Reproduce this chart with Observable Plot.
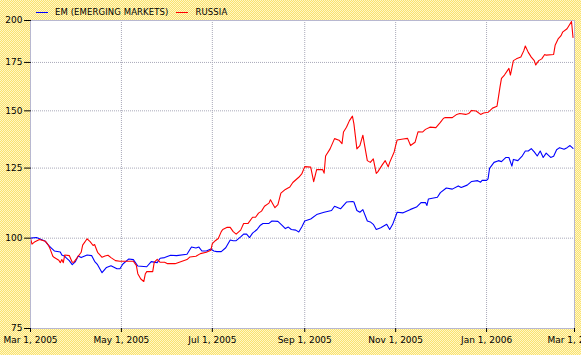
<!DOCTYPE html>
<html><head><meta charset="utf-8">
<script src="https://cdn.jsdelivr.net/npm/d3@7"></script>
<script src="https://cdn.jsdelivr.net/npm/@observablehq/plot@0.6"></script>
<style>
html,body{margin:0;padding:0;}
body{width:581px;height:355px;overflow:hidden;position:relative;font-family:"DejaVu Sans",sans-serif;
  background-color:#fcee98;
  background-image:repeating-conic-gradient(#fae26e 0 25%, #fff6c6 0 50%);
  background-size:2px 2px;}
#chart svg{display:block;background:transparent;}
#legend{position:absolute;top:7px;left:36px;font-size:8.5px;letter-spacing:0.1px;display:flex;align-items:center;color:#000;line-height:10px;}
#legend .item{display:flex;align-items:center;margin-right:8px;}
#legend .sw{display:inline-block;width:12px;height:0;border-top:1px solid;margin-right:7px;}
</style></head><body>
<div id="chart"></div>
<div id="legend"></div>
<script>
const seriesNames = ["EM (EMERGING MARKETS)", "RUSSIA"];
const seriesColors = ["#0000ff", "#ff0000"];
const yTicks = [75, 100, 125, 150, 175, 200];
const xTicks = ["2005-03-01", "2005-05-01", "2005-07-01", "2005-09-01", "2005-11-01", "2006-01-01", "2006-03-01"];

const emDates = ["2005-03-01","2005-03-05","2005-03-11","2005-03-13","2005-03-15","2005-03-17","2005-03-21","2005-03-22","2005-03-24","2005-03-25",
"2005-03-27","2005-03-29","2005-03-31","2005-04-02","2005-04-04","2005-04-08","2005-04-11","2005-04-13","2005-04-15","2005-04-18",
"2005-04-21","2005-04-24","2005-04-28","2005-04-30","2005-05-02","2005-05-06","2005-05-09","2005-05-12","2005-05-18","2005-05-21",
"2005-05-25","2005-05-27","2005-05-30","2005-06-03","2005-06-07","2005-06-14","2005-06-17","2005-06-20","2005-06-22","2005-06-24",
"2005-06-27","2005-06-30","2005-07-02","2005-07-04","2005-07-07","2005-07-10","2005-07-13","2005-07-15","2005-07-17","2005-07-20",
"2005-07-22","2005-07-24","2005-07-26","2005-07-28","2005-07-31","2005-08-02","2005-08-04","2005-08-08","2005-08-10","2005-08-14",
"2005-08-17","2005-08-19","2005-08-21","2005-08-23","2005-08-26","2005-08-28","2005-08-30","2005-09-01","2005-09-05","2005-09-09",
"2005-09-14","2005-09-19","2005-09-21","2005-09-25","2005-09-29","2005-10-03","2005-10-04","2005-10-06","2005-10-08","2005-10-10",
"2005-10-13","2005-10-15","2005-10-17","2005-10-19","2005-10-22","2005-10-26","2005-10-28","2005-10-30","2005-11-02","2005-11-06",
"2005-11-11","2005-11-15","2005-11-18","2005-11-21","2005-11-22","2005-11-23","2005-11-29","2005-12-01","2005-12-05","2005-12-09",
"2005-12-13","2005-12-15","2005-12-19","2005-12-22","2005-12-26","2005-12-28","2005-12-29","2006-01-01","2006-01-02","2006-01-03",
"2006-01-06","2006-01-09","2006-01-11","2006-01-14","2006-01-16","2006-01-18","2006-01-19","2006-01-22","2006-01-25","2006-01-27",
"2006-01-29","2006-01-31","2006-02-02","2006-02-04","2006-02-06","2006-02-08","2006-02-10","2006-02-13","2006-02-15","2006-02-17",
"2006-02-19","2006-02-22","2006-02-24","2006-02-26","2006-02-28"];
const emValues = [100,100.2,99,97.8,96.9,96,95.7,94.8,94.4,93.9,
93.1,91.9,92.7,94.5,94.0,94.8,94.6,92.9,91.9,89.6,
91.1,91.6,90.7,90.7,92.1,93.6,93.4,91.5,91.3,92.8,
92.5,93.8,94,94.7,94.6,95,97.2,96.9,97.2,96,
96,96.6,96,95.8,95.8,97,99.4,99.2,99.2,100.4,
101.3,101.3,100.2,101.6,102.8,104.1,104.8,104.8,105.6,105.5,
104.1,103.1,103.6,102.8,102.6,102,103.6,105.6,106.3,107.8,
108.6,109.2,110.7,109.8,112.2,112.4,112.2,109.2,108.6,109.5,
105.6,105.3,104.5,102.8,103.4,104.5,102.8,104.5,108.6,108.4,
109.6,110.4,112,112,111,113.3,113.9,115.6,117.3,116.9,
118.1,117.5,118.4,119.8,120.1,119.5,120.2,120.2,120.8,124.9,
127.3,128,127.6,129.3,129.3,125.8,128.5,128,130,132,
132,133,131.6,129.9,132,129.3,131.1,129.3,129.8,132.5,
133.4,132.7,133.4,134.3,133.1];

const ruDates = ["2005-03-01","2005-03-02","2005-03-04","2005-03-07","2005-03-11","2005-03-13","2005-03-14","2005-03-16","2005-03-17","2005-03-20",
"2005-03-21","2005-03-22","2005-03-23","2005-03-24","2005-03-27","2005-03-29","2005-03-30","2005-04-02","2005-04-04","2005-04-05",
"2005-04-08","2005-04-10","2005-04-12","2005-04-13","2005-04-15","2005-04-18","2005-04-20","2005-04-22","2005-04-24","2005-04-27",
"2005-04-30","2005-05-06","2005-05-09","2005-05-11","2005-05-12","2005-05-14","2005-05-16","2005-05-17","2005-05-18","2005-05-22",
"2005-05-23","2005-05-25","2005-05-27","2005-05-30","2005-06-01","2005-06-06","2005-06-14","2005-06-16","2005-06-20","2005-06-23",
"2005-06-27","2005-06-30","2005-07-01","2005-07-03","2005-07-05","2005-07-07","2005-07-08","2005-07-11","2005-07-13","2005-07-15",
"2005-07-17","2005-07-20","2005-07-22","2005-07-25","2005-07-28","2005-07-30","2005-08-01","2005-08-03","2005-08-05","2005-08-08",
"2005-08-09","2005-08-12","2005-08-14","2005-08-16","2005-08-19","2005-08-22","2005-08-24","2005-08-28","2005-08-30","2005-09-01",
"2005-09-05","2005-09-07","2005-09-09","2005-09-13","2005-09-14","2005-09-15","2005-09-18","2005-09-21","2005-09-24","2005-09-26",
"2005-09-27","2005-09-29","2005-10-01","2005-10-03","2005-10-04","2005-10-06","2005-10-08","2005-10-10","2005-10-11","2005-10-13",
"2005-10-15","2005-10-17","2005-10-19","2005-10-20","2005-10-23","2005-10-25","2005-10-27","2005-10-28","2005-10-31","2005-11-01",
"2005-11-02","2005-11-06","2005-11-09","2005-11-11","2005-11-14","2005-11-16","2005-11-19","2005-11-21","2005-11-24","2005-11-28",
"2005-12-01","2005-12-03","2005-12-04","2005-12-09","2005-12-12","2005-12-14","2005-12-18","2005-12-20","2005-12-22","2005-12-25",
"2005-12-28","2005-12-30","2006-01-02","2006-01-05","2006-01-08","2006-01-09","2006-01-10","2006-01-11","2006-01-13","2006-01-16",
"2006-01-17","2006-01-19","2006-01-21","2006-01-24","2006-01-26","2006-01-27","2006-01-29","2006-01-31","2006-02-02","2006-02-03",
"2006-02-05","2006-02-07","2006-02-09","2006-02-10","2006-02-15","2006-02-16","2006-02-18","2006-02-20","2006-02-21","2006-02-24",
"2006-02-27","2006-02-28"];
const ruValues = [100,98.1,98.9,99.6,99,97.8,96.8,94.4,94.0,93.2,
92.5,93.4,92.5,94.8,94.6,92.6,92.6,94.4,95.6,97.8,
99.8,98.9,97.7,98,95.6,94.1,94.5,94.7,94,93.1,
92.9,92.9,92.9,91.7,89.3,87.8,87.1,89.2,89.9,89.9,
92.6,93.5,92.6,92.6,92.2,92.2,93.4,94.2,94.4,95.2,
95.6,96.2,98.3,99.2,99.9,102.1,102.8,103.5,103.5,102.1,
101.3,102.6,104.8,104.8,106.9,106.9,108.3,109,110.7,111.8,
113,110.2,111.3,115.4,116.8,117.7,119.4,121.4,122.7,125.6,
125.4,119.7,124.4,124.4,123,129.9,132.9,137.3,136.6,135.1,
140.2,142.4,145.4,147.5,143.9,132.9,134.3,138.8,135,128,
127.3,128.7,122.9,123.5,126.3,128,125.5,127.3,131.6,134.3,
136.7,137.1,137.4,134.3,135.7,140.3,140.2,141.4,142.4,142.2,
144.6,146.4,146.8,146.8,148.3,148.7,148.3,148.7,150.2,149.9,
148.3,149,149.3,151.3,152.2,156.8,161.8,166.3,168.1,171.7,
168.1,176,177,178,181.7,184.4,180.7,178,176,173.6,
176,177,179.5,179.1,179.5,184.8,188.6,190.6,192.7,194.8,
199.4,189.5];

const parse = d3.utcParse("%Y-%m-%d");
const data = [
  ...emDates.map((d, i) => ({date: parse(d), value: emValues[i], series: seriesNames[0]})),
  ...ruDates.map((d, i) => ({date: parse(d), value: ruValues[i], series: seriesNames[1]}))
];
const xTickDates = xTicks.map(parse);
const gridColor = "#a9a9b9";
// plain straight tick shape for the y-axis tick marks
const tickShape = {draw(context, length) { context.moveTo(0, 0); context.lineTo(0, -length); }};

const chart = Plot.plot({
  width: 581, height: 355,
  marginLeft: 30, marginRight: 7, marginTop: 20, marginBottom: 27,
  style: {background: "transparent", fontFamily: "DejaVu Sans, sans-serif", fontSize: "9px", color: "#000", overflow: "visible"},
  x: {type: "utc", domain: [xTickDates[0], xTickDates[xTickDates.length - 1]]},
  y: {type: "log", domain: [yTicks[0], yTicks[yTicks.length - 1]], axis: null},
  color: {domain: seriesNames, range: seriesColors},
  marks: [
    Plot.frame({fill: "white", stroke: null}),
    Plot.gridX(xTickDates, {stroke: gridColor, strokeOpacity: 1, strokeDasharray: "1,1"}),
    Plot.ruleY(yTicks, {y: d => d, stroke: gridColor, strokeOpacity: 1, strokeDasharray: "1,1"}),
    Plot.line(data, {x: "date", y: "value", z: "series", stroke: "series", strokeWidth: 1.1}),
    Plot.frame({stroke: "#b8b8d0"}),
    Plot.axisX(xTickDates, {tickFormat: d3.utcFormat("%b %-d, %Y"), label: null, tickSize: 4, tickPadding: 4}),
    Plot.vector(yTicks, {y: d => d, frameAnchor: "left", rotate: -90, length: 6, anchor: "start", shape: tickShape, stroke: "#000", strokeWidth: 1}),
    Plot.text(yTicks, {y: d => d, text: d => String(d), frameAnchor: "left", textAnchor: "end", dx: -8, fill: "#000"})
  ]
});
document.getElementById("chart").appendChild(chart);

const legend = document.getElementById("legend");
seriesNames.forEach((name, i) => {
  const item = document.createElement("span");
  item.className = "item";
  const sw = document.createElement("span");
  sw.className = "sw";
  sw.style.borderColor = seriesColors[i];
  item.appendChild(sw);
  item.appendChild(document.createTextNode(name));
  legend.appendChild(item);
});
</script>
</body></html>
